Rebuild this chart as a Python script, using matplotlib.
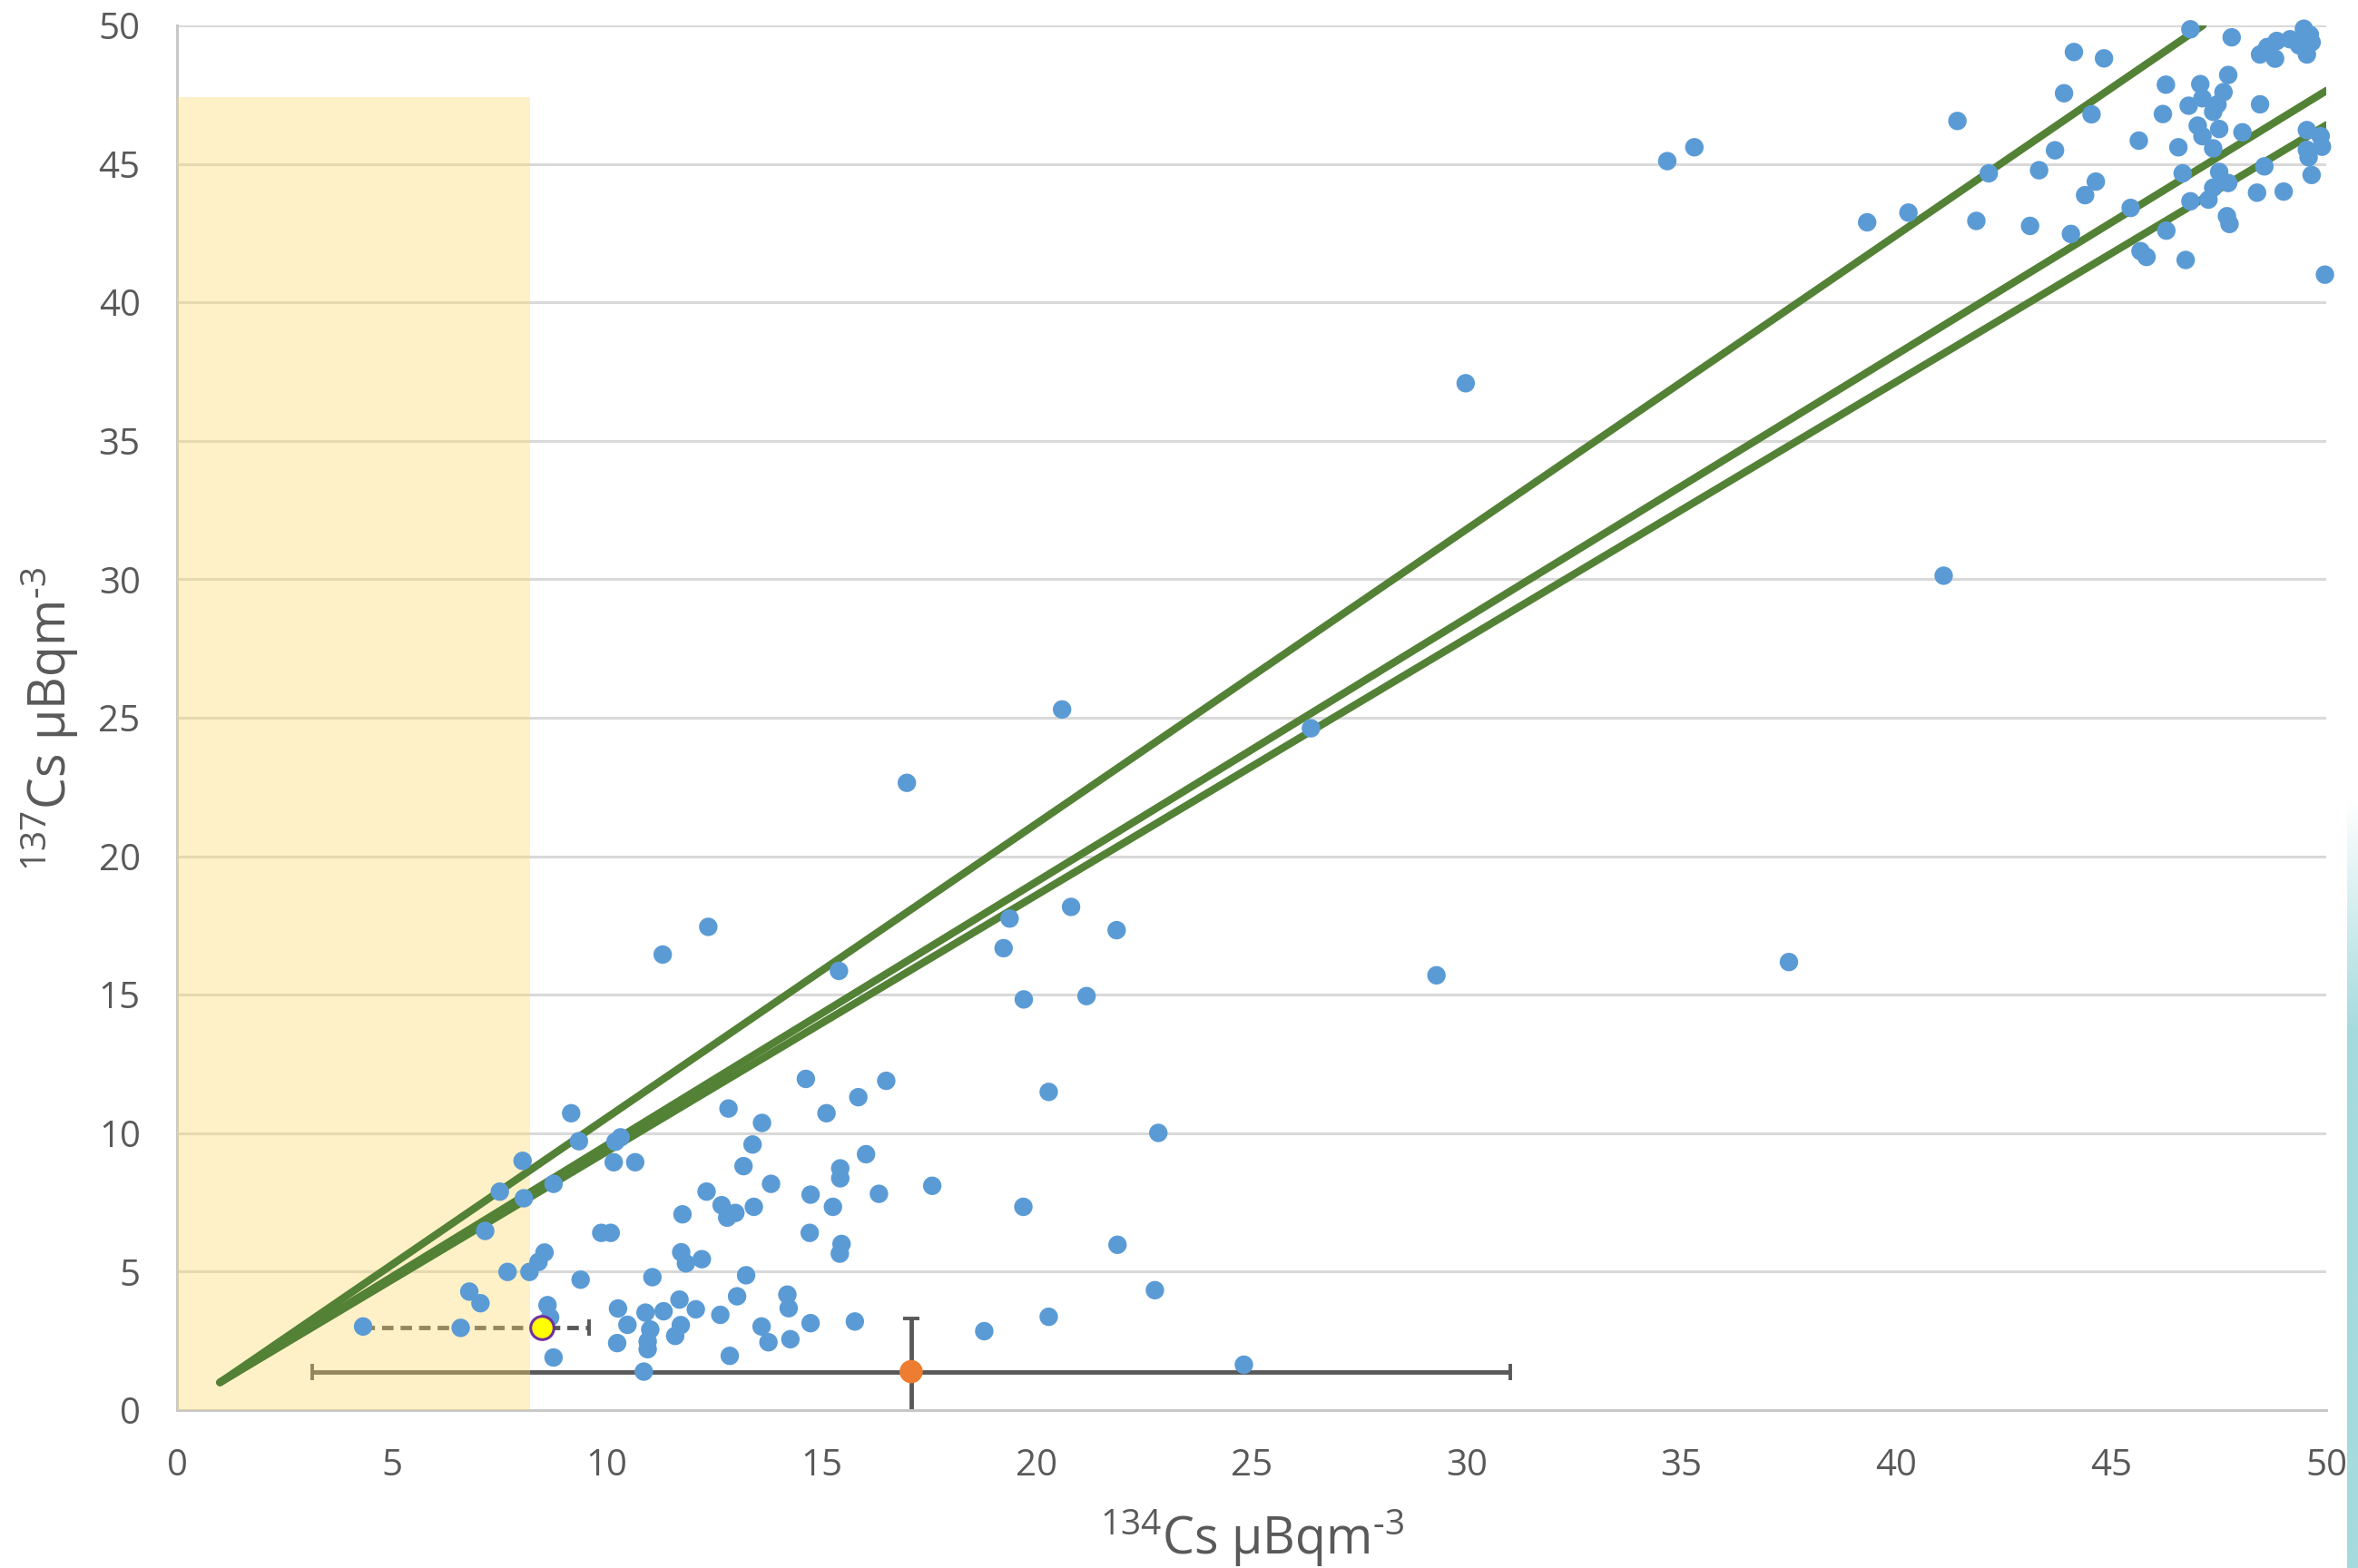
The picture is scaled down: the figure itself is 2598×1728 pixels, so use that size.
import matplotlib
matplotlib.use("Agg")
import matplotlib.pyplot as plt
from matplotlib.patches import Rectangle
from matplotlib.colors import LinearSegmentedColormap
import numpy as np

FONT = "Open Sans"
plt.rcParams["font.family"] = [FONT, "DejaVu Sans"]
plt.rcParams["mathtext.fontset"] = "custom"
plt.rcParams["mathtext.rm"] = FONT
plt.rcParams["mathtext.it"] = FONT + ":italic"
plt.rcParams["mathtext.default"] = "rm"

# ---------------- data ----------------
cs134 = [4.33, 6.60, 6.80, 7.06, 7.17, 7.51, 7.69, 8.04, 8.07, 8.20,
         8.41, 8.55, 8.62, 8.68, 8.76, 8.76, 9.17, 9.35, 9.39, 9.87,
         10.09, 10.16, 10.20, 10.32, 10.66, 10.26, 10.24, 10.48, 10.86, 10.90,
         10.95, 10.95, 11.01, 11.06, 11.32, 11.30, 11.59, 11.69, 11.72, 11.73,
         11.76, 11.84, 12.07, 12.21, 12.32, 12.36, 12.64, 12.67, 12.80, 12.99,
         12.83, 12.86, 13.03, 13.18, 13.24, 13.39, 13.42, 13.61, 13.60, 13.76,
         13.82, 14.20, 14.23, 14.27, 14.63, 14.72, 14.74, 14.74, 15.11, 15.26,
         15.40, 15.42, 15.46, 15.43, 15.43, 15.77, 15.85, 16.03, 16.33, 16.50,
         16.98, 17.57, 18.78, 19.23, 19.37, 19.69, 19.70, 20.28, 20.28, 20.59,
         20.80, 21.16, 21.86, 21.88, 22.75, 22.83, 24.82, 26.38, 29.30, 29.98,
         34.67, 35.30, 37.50, 41.10,
         39.32, 40.28, 41.42, 41.86, 42.15, 43.11, 43.32, 43.69, 43.90, 44.13,
         44.06, 44.39, 44.64, 44.54, 44.83, 45.45, 45.64, 45.68, 45.82, 46.20,
         46.27, 46.28, 46.56, 46.66, 46.73, 46.84, 46.84, 46.80, 47.01, 47.07,
         47.12, 47.12, 47.26, 47.37, 47.37, 47.37, 47.47, 47.51, 47.51, 47.61,
         47.69, 47.72, 47.72, 47.75, 47.80, 48.05, 48.39, 48.46, 48.46, 48.56,
         48.63, 48.81, 48.85, 49.01, 49.16, 49.37, 49.48, 49.55, 49.55, 49.55,
         49.59, 49.62, 49.66, 49.66, 49.87, 49.90, 49.97]
cs137 = [3.02, 2.97, 4.28, 3.86, 6.47, 7.89, 4.99, 9.00, 7.65, 4.99,
         5.35, 5.69, 3.79, 3.35, 1.90, 8.17, 10.72, 9.71, 4.71, 6.40,
         6.40, 8.95, 9.69, 9.85, 8.95, 3.67, 2.42, 3.08, 1.39, 3.52,
         2.48, 2.20, 2.91, 4.80, 3.57, 16.45, 2.68, 3.99, 3.07, 5.70,
         7.07, 5.30, 3.64, 5.45, 7.89, 17.45, 3.44, 7.40, 6.95, 7.12,
         10.89, 1.96, 4.11, 8.81, 4.87, 9.59, 7.34, 10.37, 3.02, 2.45,
         8.17, 4.17, 3.68, 2.56, 11.96, 6.40, 7.78, 3.14, 10.72, 7.34,
         15.86, 5.65, 6.00, 8.37, 8.73, 3.20, 11.30, 9.24, 7.81, 11.89,
         22.65, 8.10, 2.85, 16.68, 17.75, 7.34, 14.83, 11.49, 3.37, 25.30,
         18.17, 14.95, 17.33, 5.97, 4.33, 10.01, 1.64, 24.62, 15.70, 37.08,
         45.10, 45.60, 16.18, 30.13,
         42.89, 43.24, 46.55, 42.94, 44.66, 42.76, 44.77, 45.49, 47.55, 49.04,
         42.47, 43.87, 44.36, 46.79, 48.81, 43.41, 45.84, 41.85, 41.64, 46.80,
         47.86, 42.59, 45.60, 44.66, 41.53, 43.65, 49.86, 47.10, 46.38, 47.88,
         47.37, 46.00, 43.71, 44.14, 45.56, 46.88, 47.15, 46.26, 44.71, 47.59,
         43.11, 48.21, 44.31, 42.83, 49.57, 46.14, 43.96, 47.15, 48.95, 44.91,
         49.22, 48.80, 49.44, 44.00, 49.50, 49.28, 49.88, 48.95, 46.22, 45.51,
         45.24, 49.66, 49.39, 44.60, 46.00, 45.62, 41.00]

# ratio lines (start / end points)
fit_x0 = [1.0, 1.0, 1.0]
fit_y0 = [1.0, 1.0, 1.0]
fit_x1 = [47.13, 50.0, 50.0]
fit_y1 = [50.0, 47.64, 46.40]

# mean point with error bars (orange)
mean_x, mean_y = 17.08, 1.39
mean_xerr, mean_yerr = 13.93, 1.91

# highlighted point (yellow) with asymmetric dashed x error
hi_x, hi_y = 8.48, 2.99
hi_xerr_lo, hi_xerr_hi = 4.15, 1.11

# shaded region (detection limit)
shade_x, shade_y = 8.22, 47.4

ticks = [0, 5, 10, 15, 20, 25, 30, 35, 40, 45, 50]
xlabel = "$^{134}$Cs µBqm$^{\u20103}$"
ylabel = "$^{137}$Cs µBqm$^{\u20103}$"

# ---------------- figure ----------------
W, H = 2598, 1728
fig = plt.figure(figsize=(W / 100, H / 100), dpi=100)
ax = fig.add_axes([195 / W, 1 - 1554 / H, (2563 - 195) / W, (1554 - 28) / H])

GRAY = "#595959"
ax.set_xlim(0, 50)
ax.set_ylim(0, 50)
ax.set_xticks(ticks)
ax.set_yticks(ticks)
ax.tick_params(length=0, labelsize=29, labelcolor=GRAY)
ax.tick_params(axis="x", pad=30)
ax.tick_params(axis="y", pad=29)
ax.yaxis.grid(True, color="#D9D9D9", lw=2.2, zorder=0)
ax.set_axisbelow(True)
for s in ["top", "right"]:
    ax.spines[s].set_visible(False)
for s in ["left", "bottom"]:
    ax.spines[s].set_color("#C8C8C8")
    ax.spines[s].set_linewidth(2.2)

# error bars (below shading)
eb = ax.errorbar(mean_x, mean_y, xerr=mean_xerr, yerr=mean_yerr, fmt="none",
                 ecolor=GRAY, elinewidth=3.5, capsize=6.5, capthick=2.8, zorder=2)
eb2 = ax.errorbar(hi_x, hi_y, xerr=[[hi_xerr_lo], [hi_xerr_hi]], fmt="none",
                  ecolor=GRAY, elinewidth=3.5, capsize=6.5, capthick=2.8, zorder=2)
eb2[2][0].set_linestyle((0, (2.6, 1.6)))

# shaded region
ax.add_patch(Rectangle((0, 0), shade_x, shade_y, facecolor="#FFD966", alpha=0.36,
                       edgecolor="none", zorder=2.6))

# ratio lines
for x0, y0, x1, y1 in zip(fit_x0, fit_y0, fit_x1, fit_y1):
    ax.plot([x0, x1], [y0, y1], color="#538135", lw=6,
            solid_capstyle="round", zorder=3)

# data points
ax.scatter(cs134, cs137, s=215, color="#5B9BD5", edgecolors="none",
           zorder=4, clip_on=False)
ax.scatter([mean_x], [mean_y], s=340, color="#ED7D31", edgecolors="none", zorder=5)
ax.scatter([hi_x], [hi_y], s=340, color="#FFFF00", edgecolors="#7030A0",
           linewidths=2.2, zorder=5)

# axis labels
fig.text(1380 / W, 1 - 1713 / H, xlabel, ha="center", va="baseline",
         fontsize=40, color=GRAY)
fig.text(73 / W, 1 - 792 / H, ylabel, ha="center", va="baseline",
         rotation=90, rotation_mode="anchor", fontsize=40, color=GRAY)

# teal stripe at right edge of the picture
sax = fig.add_axes([2586 / W, 0, 12 / W, 1 - 880 / H])
t = np.linspace(0, 1, 300)
grad = np.clip((t - 0.7) / 0.3, 0, 1)[:, None]
cmap = LinearSegmentedColormap.from_list("teal", ["#A6DBDE", "#FFFFFF"])
sax.imshow(grad, aspect="auto", cmap=cmap, extent=[0, 1, 0, 1], origin="lower")
sax.set_axis_off()

fig.savefig("out.png", dpi=100)
